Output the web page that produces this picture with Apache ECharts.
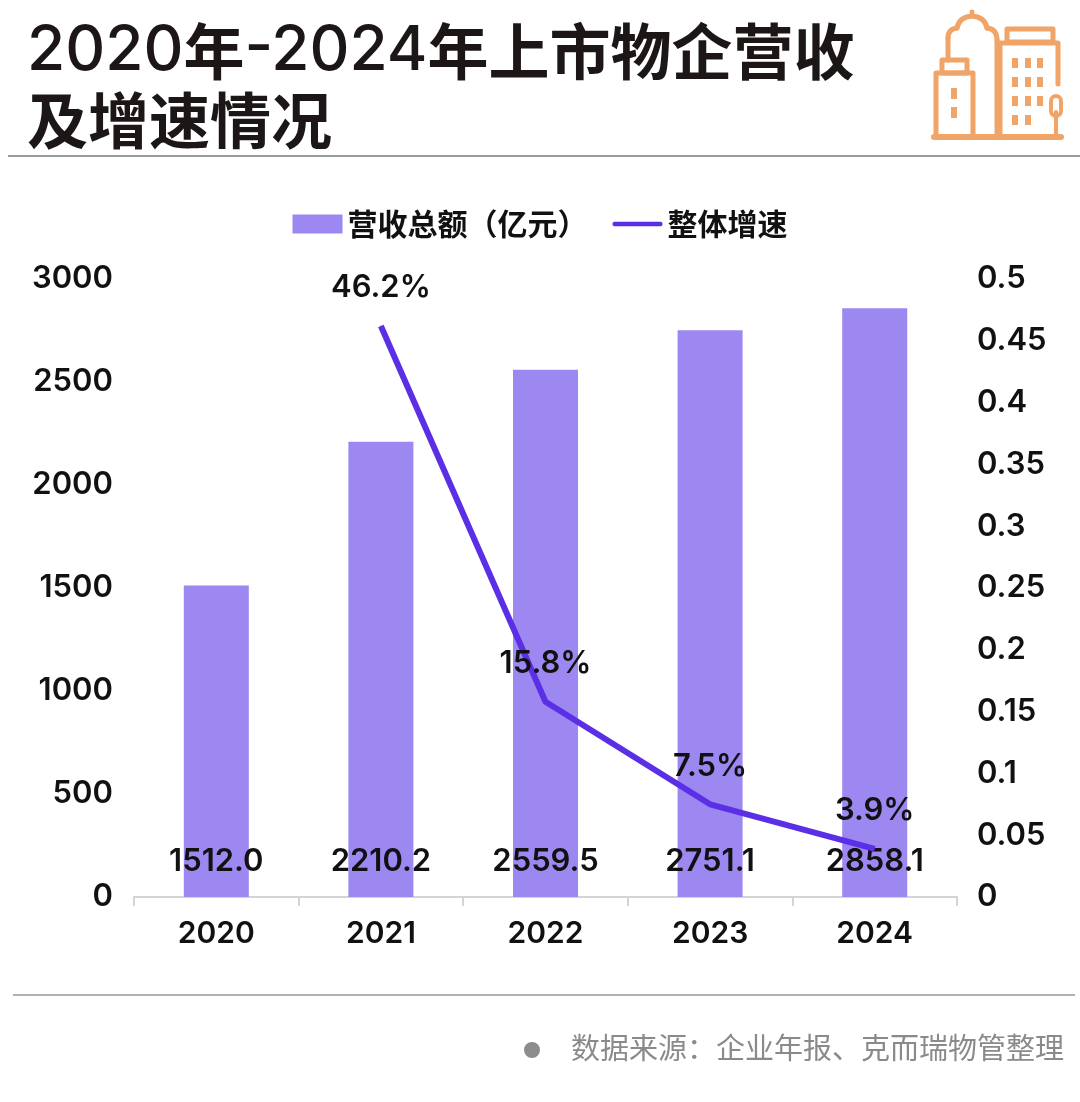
<!DOCTYPE html>
<html>
<head>
<meta charset="utf-8">
<title>2020年-2024年上市物企营收及增速情况</title>
<script src="https://cdn.jsdelivr.net/npm/echarts@6/dist/echarts.min.js"></script>
<style>
  html, body { margin: 0; padding: 0; background: #ffffff; }
  #chart { width: 1080px; height: 1102px; }
</style>
</head>
<body>
<div id="chart"></div>
<script>
/* 数据 */
const years = ['2020', '2021', '2022', '2023', '2024'];
const revenue = [1512.0, 2210.2, 2559.5, 2751.1, 2858.1];
const growth = [null, 0.462, 0.158, 0.075, 0.039];
const leftTicks = { min: 0, max: 3000, interval: 500 };
const rightTicks = { min: 0, max: 0.5, interval: 0.05 };

const BAR_COLOR = '#9d87f1';
const LINE_COLOR = '#5b2fe6';
const ICON_COLOR = '#f0a468';
const TEXT_COLOR = '#111111';
const FONT = 'Inter, "Noto Sans", sans-serif';
const CJK = '"Noto Sans CJK SC", sans-serif';

const chart = echarts.init(document.getElementById('chart'), null, { renderer: 'canvas' });

/* 右上角建筑图标 */
const iconStroke = { stroke: ICON_COLOR, lineWidth: 5, fill: null, lineJoin: 'round', lineCap: 'round' };
const iconFill = { fill: ICON_COLOR };
const windowCols = [1012, 1025, 1037];
const windowRows = [58, 77, 96, 115];
const windows = [];
windowRows.forEach((y, r) => {
  windowCols.forEach((x, c) => {
    if (r === 3 && c === 2) return;
    windows.push({ type: 'rect', shape: { x: x, y: y, width: 6, height: 10 }, style: iconFill });
  });
});

/* 圆顶由几段二次曲线拼成 */
const domeSegments = [
  [948, 38, 948, 29, 957, 28],
  [957, 28, 959, 17, 972, 16],
  [972, 16, 985, 17, 987, 28],
  [987, 28, 997, 29, 997, 40]
].map(([x1, y1, cx, cy, x2, y2]) => ({
  type: 'bezierCurve',
  shape: { x1: x1, y1: y1, cpx1: cx, cpy1: cy, x2: x2, y2: y2 },
  style: iconStroke
}));

const iconGraphics = [
  { type: 'line', shape: { x1: 934, y1: 137, x2: 1061, y2: 137 }, style: Object.assign({}, iconStroke, { lineWidth: 6 }) },
  { type: 'rect', shape: { x: 936, y: 73, width: 37, height: 64 }, style: iconStroke },
  { type: 'rect', shape: { x: 942, y: 60, width: 25, height: 13 }, style: iconStroke },
  { type: 'rect', shape: { x: 951, y: 88, width: 6, height: 11 }, style: iconFill },
  { type: 'rect', shape: { x: 951, y: 107, width: 6, height: 11 }, style: iconFill },
  { type: 'polyline', shape: { points: [[948, 60], [948, 38]] }, style: iconStroke },
  { type: 'polyline', shape: { points: [[997, 40], [997, 137]] }, style: iconStroke },
  { type: 'circle', shape: { cx: 972, cy: 12, r: 2.5 }, style: iconFill },
  { type: 'rect', shape: { x: 1007, y: 29, width: 46, height: 13 }, style: iconStroke },
  { type: 'polyline', shape: { points: [[1000, 137], [1000, 43], [1058, 43], [1058, 84]] }, style: iconStroke },
  { type: 'rect', shape: { x: 1051, y: 96, width: 10, height: 20, r: 5 }, style: Object.assign({}, iconStroke, { lineWidth: 4 }) },
  { type: 'line', shape: { x1: 1056, y1: 112, x2: 1056, y2: 137 }, style: Object.assign({}, iconStroke, { lineWidth: 4 }) }
].concat(domeSegments, windows);

const option = {
  backgroundColor: '#ffffff',
  animation: false,
  title: {
    text: '{d|2020}{c|年}{d|-2024}{c|年上市物企营收}\n{c|及增速情况}',
    left: 22,
    top: 12,
    textStyle: {
      rich: {
        d: { fontFamily: FONT, fontSize: 62, fontWeight: 500, color: '#1c1616', lineHeight: 69 },
        c: { fontFamily: CJK, fontSize: 61, fontWeight: 'bold', color: '#1c1616', lineHeight: 69 }
      }
    }
  },
  legend: {
    left: 'center',
    top: 204,
    itemWidth: 50,
    itemHeight: 19,
    itemGap: 25,
    textStyle: { fontFamily: CJK, fontSize: 30, fontWeight: 'bold', color: TEXT_COLOR },
    data: [
      { name: '营收总额（亿元）', icon: 'rect' },
      { name: '整体增速', icon: 'path://M2,0 L54,0 Q56,0 56,2.5 Q56,5 54,5 L2,5 Q0,5 0,2.5 Q0,0 2,0 Z' }
    ]
  },
  grid: { left: 134, right: 123, top: 279, height: 618 },
  xAxis: {
    type: 'category',
    data: years,
    axisLine: { lineStyle: { color: '#d4d4d4', width: 2 } },
    axisTick: { show: true, length: 9, lineStyle: { color: '#d4d4d4', width: 2 } },
    axisLabel: { margin: 22, fontFamily: FONT, fontSize: 30, fontWeight: 600, color: TEXT_COLOR }
  },
  yAxis: [
    {
      type: 'value',
      min: leftTicks.min,
      max: leftTicks.max,
      interval: leftTicks.interval,
      axisLine: { show: false },
      axisTick: { show: false },
      splitLine: { show: false },
      axisLabel: {
        margin: 21,
        fontFamily: FONT,
        fontSize: 31,
        fontWeight: 600,
        color: TEXT_COLOR,
        formatter: (v) => String(v)
      }
    },
    {
      type: 'value',
      min: rightTicks.min,
      max: rightTicks.max,
      interval: rightTicks.interval,
      axisLine: { show: false },
      axisTick: { show: false },
      splitLine: { show: false },
      axisLabel: {
        margin: 20,
        fontFamily: FONT,
        fontSize: 31,
        fontWeight: 600,
        color: TEXT_COLOR,
        formatter: (v) => String(parseFloat(v.toFixed(2)))
      }
    }
  ],
  series: [
    {
      name: '营收总额（亿元）',
      type: 'bar',
      data: revenue,
      barWidth: '39.5%',
      itemStyle: { color: BAR_COLOR },
      label: {
        show: true,
        position: 'insideBottom',
        distance: 20,
        fontFamily: FONT,
        fontSize: 31,
        fontWeight: 600,
        color: TEXT_COLOR,
        formatter: (p) => p.value.toFixed(1)
      }
    },
    {
      name: '整体增速',
      type: 'line',
      yAxisIndex: 1,
      data: growth,
      symbol: 'circle',
      symbolSize: 1,
      showSymbol: true,
      lineStyle: { color: LINE_COLOR, width: 6 },
      itemStyle: { color: LINE_COLOR },
      label: {
        show: true,
        position: 'top',
        distance: 22,
        fontFamily: FONT,
        fontSize: 31,
        fontWeight: 600,
        color: TEXT_COLOR,
        formatter: (p) => (p.value * 100).toFixed(1) + '%'
      },
      z: 5
    }
  ],
  graphic: [
    { type: 'line', shape: { x1: 8, y1: 156, x2: 1080, y2: 156 }, style: { stroke: '#9a9a9a', lineWidth: 2 } },
    { type: 'line', shape: { x1: 13, y1: 995, x2: 1075, y2: 995 }, style: { stroke: '#b0b0b0', lineWidth: 2 } },
    { type: 'circle', shape: { cx: 532, cy: 1050, r: 8 }, style: { fill: '#8c8c8c' } },
    {
      type: 'text',
      left: 571,
      top: 1033,
      style: {
        text: '数据来源：企业年报、克而瑞物管整理',
        fontFamily: CJK,
        fontSize: 29,
        fill: '#8a8a8a'
      }
    }
  ].concat(iconGraphics)
};

chart.setOption(option);
</script>
</body>
</html>
